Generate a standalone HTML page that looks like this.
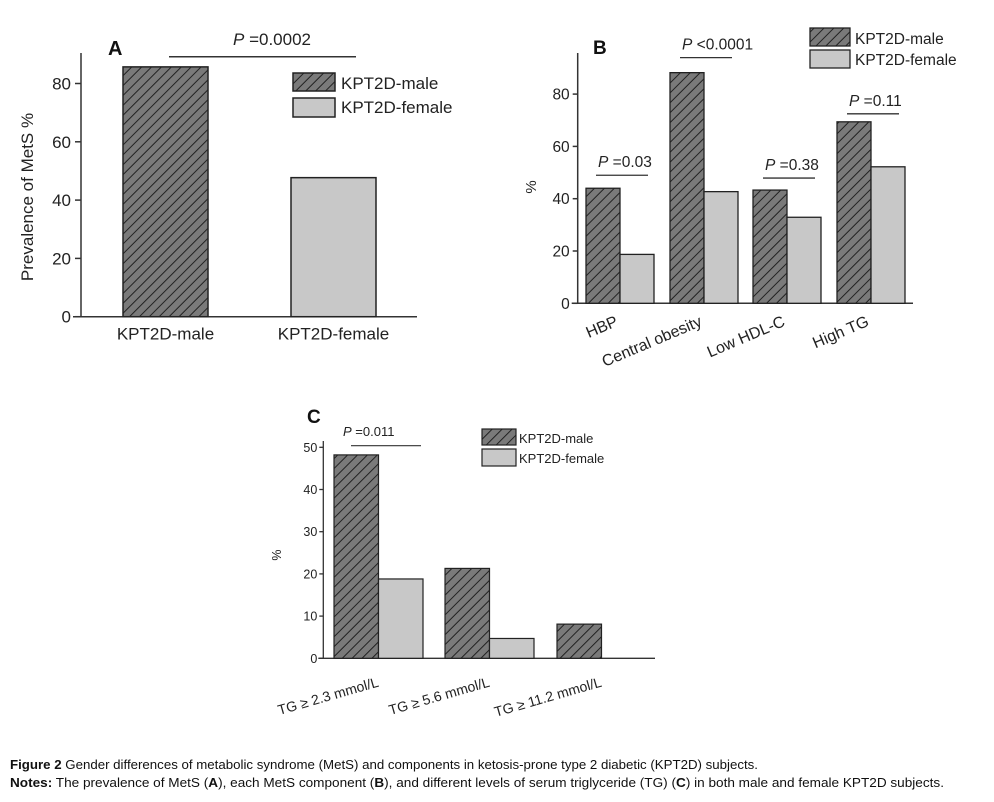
<!DOCTYPE html>
<html><head><meta charset="utf-8"><style>
body{margin:0;background:#fff;}
svg{display:block;font-family:"Liberation Sans",Arial,sans-serif;}
</style></head><body>
<svg id="fig" width="994" height="802" viewBox="0 0 994 802" xmlns="http://www.w3.org/2000/svg">
<defs>
<pattern id="hatch" patternUnits="userSpaceOnUse" width="7" height="7" patternTransform="rotate(45)">
<rect width="7" height="7" fill="#7a7a7a"/><line x1="0" y1="0" x2="0" y2="7" stroke="#222" stroke-width="2"/>
</pattern>
</defs>
<g id="root"></g>
<text x="10" y="769" font-size="12.5" fill="#111" textLength="748" lengthAdjust="spacingAndGlyphs"><tspan font-weight="bold">Figure 2</tspan> Gender differences of metabolic syndrome (MetS) and components in ketosis-prone type 2 diabetic (KPT2D) subjects.</text>
<text x="10" y="787" font-size="12.5" fill="#111" textLength="934" lengthAdjust="spacingAndGlyphs"><tspan font-weight="bold">Notes:</tspan> The prevalence of MetS (<tspan font-weight="bold">A</tspan>), each MetS component (<tspan font-weight="bold">B</tspan>), and different levels of serum triglyceride (TG) (<tspan font-weight="bold">C</tspan>) in both male and female KPT2D subjects.</text>
</svg>
<script>
const aCategories=["KPT2D-male","KPT2D-female"];
const aValues=[85.7,47.7];
const aTicks=[0,20,40,60,80];
const bCategories=["HBP","Central obesity","Low HDL-C","High TG"];
const bMale=[44,88.2,43.3,69.4];
const bFemale=[18.7,42.7,32.9,52.2];
const bPvalues=["=0.03","<0.0001","=0.38","=0.11"];
const bTicks=[0,20,40,60,80];
const cCategories=["TG ≥ 2.3 mmol/L","TG ≥ 5.6 mmol/L","TG ≥ 11.2 mmol/L"];
const cMale=[48.2,21.3,8.1];
const cFemale=[18.8,4.7,0];
const cTicks=[0,10,20,30,40,50];

const NS="http://www.w3.org/2000/svg";
const root=document.getElementById('root');
function el(tag,attrs,parent,text){const e=document.createElementNS(NS,tag);for(const k in attrs)e.setAttribute(k,attrs[k]);if(text!==undefined)e.textContent=text;(parent||root).appendChild(e);return e;}
function grp(name){const g=el('g',{});return g;}
const AX="#333";

// ---------- Panel A ----------
(function(){
const g=grp('panel-a');
const x0=81,y0=316.7,ppu=58.3/20;
const y=v=>y0-v*ppu;
el('line',{x1:x0,y1:53,x2:x0,y2:y0,stroke:AX,'stroke-width':1.5},g);
el('line',{x1:x0-8,y1:y0,x2:417,y2:y0,stroke:AX,'stroke-width':1.5},g);
aTicks.forEach(t=>{
 el('line',{x1:x0-6,y1:y(t),x2:x0,y2:y(t),stroke:AX,'stroke-width':1.5},g);
 const tx=el('text',{x:x0-10,y:y(t)+6,'font-size':17,'text-anchor':'end',fill:'#222'},g,t);
 
 
});
const yl=el('text',{x:0,y:0,'font-size':17,'text-anchor':'middle',fill:'#222',transform:'translate(33,197) rotate(-90)'},g,'Prevalence of MetS %');


const lefts=[123,291],w=85;
aCategories.forEach((c,i)=>{
 const r=el('rect',{x:lefts[i],y:y(aValues[i]),width:w,height:y0-y(aValues[i]),fill:i==0?'url(#hatch)':'#c8c8c8',stroke:'#222','stroke-width':1.5},g);
 
 
 const t=el('text',{x:lefts[i]+w/2,y:y0+23,'font-size':17,'text-anchor':'middle',fill:'#222'},g,c);
 
 
});
el('line',{x1:169,y1:56.7,x2:356,y2:56.7,stroke:'#333','stroke-width':1.5},g);
const p=el('text',{x:272,y:45,'font-size':17,'text-anchor':'middle',fill:'#222'},g);


el('tspan',{'font-style':'italic'},p,'P');el('tspan',{},p,' =0.0002');
const L=el('text',{x:108,y:55,'font-size':20,'font-weight':'bold',fill:'#111'},g,'A');


const lg=el('g',{},g);


el('rect',{x:293,y:73,width:42,height:18,fill:'url(#hatch)',stroke:'#222','stroke-width':1.5},lg);
el('rect',{x:293,y:98,width:42,height:19,fill:'#c8c8c8',stroke:'#222','stroke-width':1.5},lg);
el('text',{x:341,y:89,'font-size':17,fill:'#222'},lg,'KPT2D-male');
el('text',{x:341,y:113,'font-size':17,fill:'#222'},lg,'KPT2D-female');
})();

// ---------- Panel B ----------
(function(){
const g=grp('panel-b');
const x0=577.7,y0=303.3,ppu=52.3/20;
const y=v=>y0-v*ppu;
el('line',{x1:x0,y1:53,x2:x0,y2:y0,stroke:AX,'stroke-width':1.5},g);
el('line',{x1:x0-6,y1:y0,x2:913,y2:y0,stroke:AX,'stroke-width':1.5},g);
bTicks.forEach(t=>{
 el('line',{x1:x0-5,y1:y(t),x2:x0,y2:y(t),stroke:AX,'stroke-width':1.5},g);
 const tx=el('text',{x:x0-8,y:y(t)+5.5,'font-size':15.5,'text-anchor':'end',fill:'#222'},g,t);
 
 
});
const yl=el('text',{x:0,y:0,'font-size':15,'text-anchor':'middle',fill:'#222',transform:'translate(536,187) rotate(-90)'},g,'%');


const starts=[586,670,753,837],w=34;
const pDy=[13,15,12,8];
bCategories.forEach((c,i)=>{
 const m=el('rect',{x:starts[i],y:y(bMale[i]),width:w,height:y0-y(bMale[i]),fill:'url(#hatch)',stroke:'#222','stroke-width':1.3},g);
 
 
 const f=el('rect',{x:starts[i]+w,y:y(bFemale[i]),width:w,height:y0-y(bFemale[i]),fill:'#c8c8c8',stroke:'#222','stroke-width':1.3},g);
 
 
 const cx=starts[i]+w;
 const t=el('text',{x:0,y:0,'font-size':16,'text-anchor':'end',fill:'#222',transform:`translate(${cx-1},${y0+22}) rotate(-23)`},g,c);
 
 
 const top=Math.max(bMale[i],bFemale[i]);
 const ly=y(top)-pDy[i];
 el('line',{x1:starts[i]+10,y1:ly,x2:starts[i]+2*w-6,y2:ly,stroke:'#333','stroke-width':1.3},g);
 const p=el('text',{x:starts[i]+12,y:ly-8,'font-size':15.5,fill:'#222'},g);
 
 
 el('tspan',{'font-style':'italic'},p,'P');el('tspan',{},p,' '+bPvalues[i]);
});
const L=el('text',{x:593,y:54,'font-size':19,'font-weight':'bold',fill:'#111'},g,'B');


const lg=el('g',{},g);


el('rect',{x:810,y:28,width:40,height:18,fill:'url(#hatch)',stroke:'#222','stroke-width':1.3},lg);
el('rect',{x:810,y:50,width:40,height:18,fill:'#c8c8c8',stroke:'#222','stroke-width':1.3},lg);
el('text',{x:855,y:44,'font-size':15.5,fill:'#222'},lg,'KPT2D-male');
el('text',{x:855,y:65,'font-size':15.5,fill:'#222'},lg,'KPT2D-female');
})();

// ---------- Panel C ----------
(function(){
const g=grp('panel-c');
const x0=323.3,y0=658.3,ppu=42.2/10;
const y=v=>y0-v*ppu;
el('line',{x1:x0,y1:441,x2:x0,y2:y0,stroke:AX,'stroke-width':1.3},g);
el('line',{x1:x0-5,y1:y0,x2:655,y2:y0,stroke:AX,'stroke-width':1.3},g);
cTicks.forEach(t=>{
 el('line',{x1:x0-4,y1:y(t),x2:x0,y2:y(t),stroke:AX,'stroke-width':1.3},g);
 const tx=el('text',{x:x0-6,y:y(t)+4.5,'font-size':12.5,'text-anchor':'end',fill:'#222'},g,t);
 
 
});
const yl=el('text',{x:0,y:0,'font-size':12.5,'text-anchor':'middle',fill:'#222',transform:'translate(281,555) rotate(-90)'},g,'%');


const starts=[334,445,557],w=44.5;
cCategories.forEach((c,i)=>{
 const m=el('rect',{x:starts[i],y:y(cMale[i]),width:w,height:y0-y(cMale[i]),fill:'url(#hatch)',stroke:'#222','stroke-width':1.2},g);
 
 
 if(cFemale[i]>0){
 const f=el('rect',{x:starts[i]+w,y:y(cFemale[i]),width:w,height:y0-y(cFemale[i]),fill:'#c8c8c8',stroke:'#222','stroke-width':1.2},g);
 
 
 }
 const t=el('text',{x:0,y:0,'font-size':14,'text-anchor':'end',fill:'#222',transform:`translate(${starts[i]+w+1},${y0+28}) rotate(-16)`},g,c);
 
 
});
el('line',{x1:351,y1:445.7,x2:421,y2:445.7,stroke:'#333','stroke-width':1.2},g);
const p=el('text',{x:343,y:436,'font-size':13,fill:'#222'},g);


el('tspan',{'font-style':'italic'},p,'P');el('tspan',{},p,' =0.011');
const L=el('text',{x:307,y:423,'font-size':19,'font-weight':'bold',fill:'#111'},g,'C');


const lg=el('g',{},g);


el('rect',{x:482,y:429,width:34,height:16,fill:'url(#hatch)',stroke:'#222','stroke-width':1.2},lg);
el('rect',{x:482,y:449,width:34,height:17,fill:'#c8c8c8',stroke:'#222','stroke-width':1.2},lg);
el('text',{x:519,y:443,'font-size':13,fill:'#222'},lg,'KPT2D-male');
el('text',{x:519,y:463,'font-size':13,fill:'#222'},lg,'KPT2D-female');
})();
</script>
</body></html>
